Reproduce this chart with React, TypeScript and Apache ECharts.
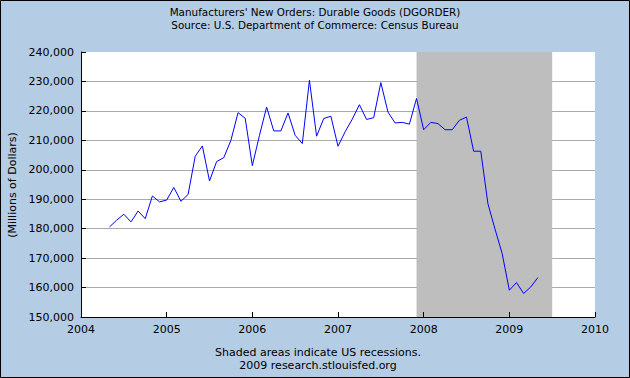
import React, { useEffect, useRef } from "react";
import * as echarts from "echarts";

const startYear = 2004;
const startMonth = 5; // May 2004
// Manufacturers' New Orders: Durable Goods, millions of dollars, monthly
const values2004 = [180600, 182900, 184900, 182300, 186000, 183400, 191100, 189100];
const values2005 = [189700, 194000, 189300, 191600, 204600, 208100, 196200, 202800, 204100, 210000, 219400, 217500];
const values2006 = [201400, 211700, 221300, 213200, 213200, 219300, 211700, 208900, 230400, 211400, 217400, 218200];
const values2007 = [208000, 212900, 217200, 222100, 217100, 217700, 229600, 219600, 215900, 216100, 215500, 224200];
const values2008 = [213600, 216100, 215700, 213600, 213600, 216800, 217900, 206300, 206300, 188500, 179800, 171500];
const values2009 = [159100, 161700, 158000, 160200, 163400];

const recessions: [number, number][] = [[2007 + 11 / 12, 2009.5]];
const xTicks = [2004, 2005, 2006, 2007, 2008, 2009, 2010];
const yTicks = [150000, 240000, 10000]; // min, max, step

const titleLines = [
  "Manufacturers' New Orders: Durable Goods (DGORDER)",
  "Source: U.S. Department of Commerce: Census Bureau",
];
const footerLines = ["Shaded areas indicate US recessions.", "2009 research.stlouisfed.org"];
const yName = "(Millions of Dollars)";

const FONT = "DejaVu Sans";

export default function App() {
  const ref = useRef<HTMLDivElement>(null);
  useEffect(() => {
    if (!ref.current) return;
    const chart = echarts.init(ref.current, undefined, { renderer: "svg" });
    const all = [...values2004, ...values2005, ...values2006, ...values2007, ...values2008, ...values2009];
    const data = all.map((v, i) => {
      const m = startMonth - 1 + i;
      return [startYear + m / 12, v];
    });
    chart.setOption({
      animation: false,
      backgroundColor: "#B4CCE4",
      grid: {
        left: 81,
        right: 35,
        top: 52,
        bottom: 61,
        containLabel: false,
        show: true,
        backgroundColor: "#FFFFFF",
        borderWidth: 0,
      },
      xAxis: {
        type: "value",
        min: xTicks[0],
        max: xTicks[xTicks.length - 1],
        interval: 1,
        z: 1,
        axisLine: { show: true, lineStyle: { color: "#000", width: 1 } },
        axisTick: { show: true, inside: true, length: 5, lineStyle: { color: "#000" } },
        axisLabel: { color: "#000", fontFamily: FONT, fontSize: 11, margin: 7, formatter: (v: number) => String(v) },
        splitLine: { show: false },
      },
      yAxis: {
        type: "value",
        min: yTicks[0],
        max: yTicks[1],
        interval: yTicks[2],
        z: 1,
        axisLine: { show: true, lineStyle: { color: "#000", width: 1 } },
        axisTick: { show: true, inside: true, length: 5, lineStyle: { color: "#000" } },
        axisLabel: {
          color: "#000",
          fontFamily: FONT,
          fontSize: 11,
          margin: 7,
          formatter: (v: number) => v.toLocaleString("en-US"),
        },
        splitLine: { show: true, showMinLine: false, showMaxLine: false, lineStyle: { color: "#AAAAAA", width: 1 } },
      },
      series: [
        {
          type: "line",
          z: 0,
          data: [],
          silent: true,
          markArea: {
            silent: true,
            itemStyle: { color: "#BEBEBE" },
            data: recessions.map(([a, b]) => [{ xAxis: a }, { xAxis: b }]),
          },
        },
        {
          type: "line",
          z: 2,
          data,
          showSymbol: false,
          lineStyle: { color: "#0000FF", width: 1 },
        },
      ],
      graphic: [
        {
          type: "rect",
          shape: { x: 0.5, y: 0.5, width: 629, height: 377 },
          style: { fill: "none", stroke: "#000", lineWidth: 1 },
          z: 10,
        },
        {
          type: "text",
          x: 315,
          y: 12,
          style: { text: titleLines[0], fontFamily: FONT, fontSize: 10.4, fill: "#000", align: "center", verticalAlign: "middle" },
        },
        {
          type: "text",
          x: 315,
          y: 25,
          style: { text: titleLines[1], fontFamily: FONT, fontSize: 10.4, fill: "#000", align: "center", verticalAlign: "middle" },
        },
        {
          type: "text",
          x: 318,
          y: 352,
          style: { text: footerLines[0], fontFamily: FONT, fontSize: 11, fill: "#000", align: "center", verticalAlign: "middle" },
        },
        {
          type: "text",
          x: 318,
          y: 365,
          style: { text: footerLines[1], fontFamily: FONT, fontSize: 11, fill: "#000", align: "center", verticalAlign: "middle" },
        },
        {
          type: "text",
          x: 12,
          y: 185,
          rotation: Math.PI / 2,
          style: { text: yName, fontFamily: FONT, fontSize: 11, fill: "#000", align: "center", verticalAlign: "middle" },
        },
      ],
    });
    return () => chart.dispose();
  }, []);
  return <div ref={ref} style={{ position: "fixed", left: 0, top: 0, width: 630, height: 378 }} />;
}
